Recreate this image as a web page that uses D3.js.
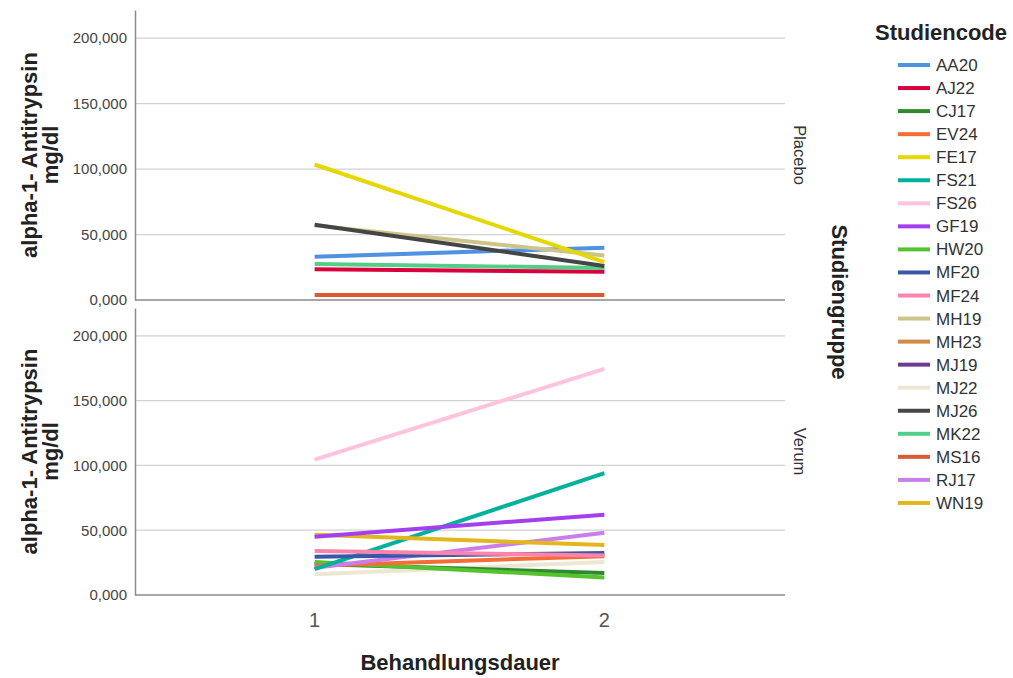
<!DOCTYPE html>
<html>
<head>
<meta charset="utf-8">
<script src="https://cdn.jsdelivr.net/npm/d3@7"></script>
<style>
  body { margin: 0; background: #fff; }
  svg { font-family: "Liberation Sans", Arial, sans-serif; }
</style>
</head>
<body>
<svg id="chart" width="1013" height="678"></svg>
<script>
// Treatment time points
const timepoints = [1, 2];
// Study groups (facets)
const groups = ["Placebo", "Verum"];
// Subject codes and colours for the legend
const codes = ["AA20","AJ22","CJ17","EV24","FE17","FS21","FS26","GF19","HW20","MF20",
               "MF24","MH19","MH23","MJ19","MJ22","MJ26","MK22","MS16","RJ17","WN19"];
const codeColors = ["#4f92e3","#d9003b","#2f8a2f","#f56d35","#e5d700","#00b29c","#ffc3dc","#a43ff0","#56c230","#3a58a8",
                    "#ff83ab","#cdc48a","#cf8a45","#6e3c8f","#ece6d2","#454545","#52ce88","#d95a33","#c97ee8","#e3b51e"];
// y-axis tick values
const yTicks = [0, 50000, 100000, 150000, 200000];

// alpha-1-antitrypsin (mg/dl) at time points 1 and 2
const placeboCodes  = ["MS16","AJ22","MK22","AA20","MH19","MJ26","FE17"];
const placeboValues = [[3800,3800],[23500,21500],[27500,24500],[33000,40000],[57000,34000],[57500,26000],[103500,29000]];
const verumCodes  = ["MJ22","CJ17","HW20","EV24","RJ17","FS21","MF20","MF24","WN19","GF19","FS26"];
const verumValues = [[16000,25500],[24000,17000],[25500,13500],[22500,30000],[21000,48000],[20000,94000],[29500,32500],[34000,30500],[46500,38500],[45000,62000],[104500,174500]];

const svg = d3.select("#chart");
const color = d3.scaleOrdinal().domain(codes).range(codeColors);
// German number format: thousands shown with three decimals after a comma
const fmt = v => d3.format(".3f")(v / 1000).replace(".", ",");

const x = d3.scaleLinear().domain([0.38, 2.62]).range([135, 784]);

const panels = [
  { name: groups[0], top: 10, bottom: 300, codes: placeboCodes, values: placeboValues },
  { name: groups[1], top: 308, bottom: 595, codes: verumCodes, values: verumValues }
];

panels.forEach(p => {
  const y = d3.scaleLinear().domain([0, 221500]).range([p.bottom, p.top]);
  const g = svg.append("g");

  // gridlines
  g.selectAll("line.grid").data(yTicks.slice(1)).join("line")
    .attr("x1", 135).attr("x2", 785)
    .attr("y1", d => y(d)).attr("y2", d => y(d))
    .attr("stroke", "#d2d2d2").attr("stroke-width", 1.2);

  // y axis
  const ax = g.append("g").attr("transform", "translate(135,0)")
    .call(d3.axisLeft(y).tickValues(yTicks).tickFormat(fmt).tickSize(0).tickPadding(8));
  ax.select(".domain").attr("stroke", "#8a8a8a").attr("stroke-width", 1.5);
  ax.selectAll("text").attr("font-size", 15).attr("fill", "#444")
    .attr("font-family", "'Liberation Sans', Arial, sans-serif");

  // baseline
  g.append("line").attr("x1", 135).attr("x2", 785)
    .attr("y1", p.bottom).attr("y2", p.bottom)
    .attr("stroke", "#8a8a8a").attr("stroke-width", 1.5);

  // subject lines
  const line = d3.line().x((d, i) => x(timepoints[i])).y(d => y(d));
  g.selectAll("path.subj").data(p.codes.map((c, i) => ({ code: c, vals: p.values[i] })))
    .join("path")
    .attr("d", d => line(d.vals))
    .attr("fill", "none")
    .attr("stroke", d => color(d.code))
    .attr("stroke-width", 4)
    .attr("stroke-linecap", "butt");

  // facet label
  const cy = (p.top + p.bottom) / 2;
  svg.append("text")
    .attr("transform", `translate(794,${cy}) rotate(90)`)
    .attr("text-anchor", "middle")
    .attr("font-size", 16.5).attr("fill", "#333")
    .text(p.name);

  // y axis title
  const yt = svg.append("text")
    .attr("transform", `translate(37,${cy}) rotate(-90)`)
    .attr("text-anchor", "middle")
    .attr("font-size", 22).attr("font-weight", "bold").attr("fill", "#222");
  yt.append("tspan").attr("x", 0).attr("dy", 0).text("alpha-1- Antitrypsin");
  yt.append("tspan").attr("x", 0).attr("dy", 21).text("mg/dl");
});

// x axis tick labels
svg.selectAll("text.xt").data(timepoints).join("text")
  .attr("x", d => x(d)).attr("y", 627)
  .attr("text-anchor", "middle")
  .attr("font-size", 20).attr("fill", "#555")
  .text(d => d);

// x axis title
svg.append("text").attr("x", 460).attr("y", 670)
  .attr("text-anchor", "middle")
  .attr("font-size", 22).attr("font-weight", "bold").attr("fill", "#222")
  .text("Behandlungsdauer");

// facet group title
svg.append("text")
  .attr("transform", "translate(832,302) rotate(90)")
  .attr("text-anchor", "middle")
  .attr("font-size", 22).attr("font-weight", "bold").attr("fill", "#222")
  .text("Studiengruppe");

// legend
svg.append("text").attr("x", 875).attr("y", 40)
  .attr("font-size", 22).attr("font-weight", "bold").attr("fill", "#222")
  .text("Studiencode");
const leg = svg.selectAll("g.leg").data(codes).join("g")
  .attr("transform", (d, i) => `translate(0,${65 + i * 23.05})`);
leg.append("line").attr("x1", 898).attr("x2", 930)
  .attr("stroke", d => color(d)).attr("stroke-width", 4);
leg.append("text").attr("x", 936).attr("y", 6)
  .attr("font-size", 17).attr("fill", "#333")
  .text(d => d);
</script>
</body>
</html>
